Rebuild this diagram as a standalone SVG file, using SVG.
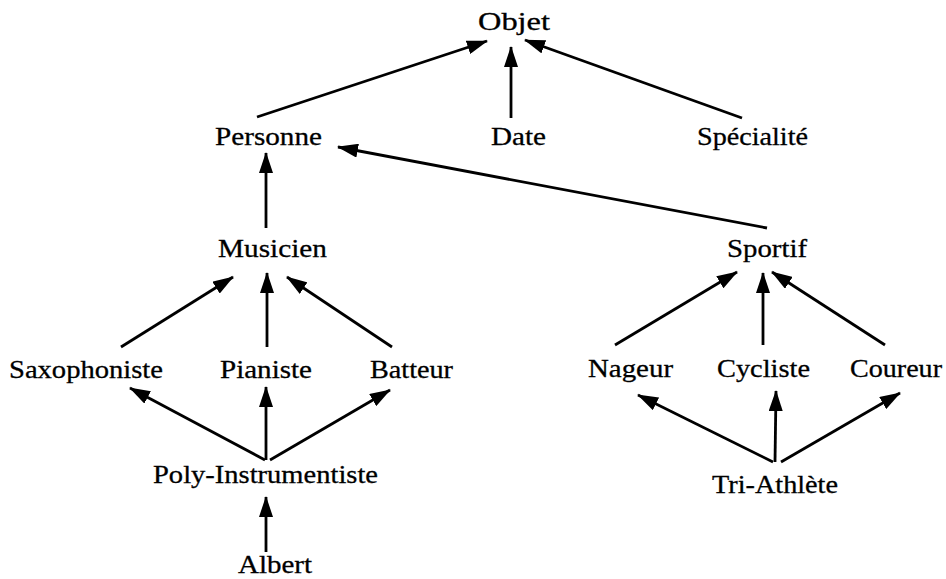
<svg xmlns="http://www.w3.org/2000/svg" width="946" height="579" viewBox="0 0 946 579">
<style>
text{font-family:"Liberation Serif","Times New Roman",serif;font-size:26px;fill:#000;stroke:#000;stroke-width:0.3}
.c line{stroke:#000;stroke-width:2.8;marker-end:url(#ah)}
</style>
<defs>
<marker id="ah" markerUnits="userSpaceOnUse" markerWidth="22" markerHeight="14" refX="20" refY="7" orient="auto">
<path d="M0,0 L21,7 L0,14 z" fill="#000"/>
</marker>
</defs>
<rect width="946" height="579" fill="#fff"/>
<g class="c" id="connectors">
<line x1="257" y1="117" x2="487" y2="41"/>
<line x1="511" y1="118" x2="511" y2="47"/>
<line x1="742" y1="118" x2="525" y2="40"/>
<line x1="767" y1="228" x2="338" y2="147"/>
<line x1="266" y1="228" x2="266" y2="153"/>
<line x1="121" y1="347" x2="233" y2="277"/>
<line x1="267" y1="347" x2="267" y2="273"/>
<line x1="392" y1="347" x2="287" y2="277"/>
<line x1="265" y1="460" x2="130" y2="388"/>
<line x1="266" y1="460" x2="266" y2="387"/>
<line x1="270" y1="460" x2="390" y2="390"/>
<line x1="266" y1="552" x2="266" y2="497"/>
<line x1="615" y1="345" x2="737" y2="272"/>
<line x1="763" y1="345" x2="763" y2="273"/>
<line x1="885" y1="345" x2="772" y2="272"/>
<line x1="773" y1="462" x2="638" y2="395"/>
<line x1="775" y1="462" x2="776" y2="391"/>
<line x1="781" y1="462" x2="900" y2="393"/>
</g>
<g id="objet"><text x="478" y="30" textLength="72" lengthAdjust="spacingAndGlyphs">Objet</text></g>
<g id="personne"><text x="215" y="145" textLength="107" lengthAdjust="spacingAndGlyphs">Personne</text></g>
<g id="date"><text x="491" y="145" textLength="55" lengthAdjust="spacingAndGlyphs">Date</text></g>
<g id="specialite"><text x="697" y="145" textLength="111" lengthAdjust="spacingAndGlyphs">Spécialité</text></g>
<g id="musicien"><text x="218" y="257" textLength="109" lengthAdjust="spacingAndGlyphs">Musicien</text></g>
<g id="sportif"><text x="727" y="257" textLength="80" lengthAdjust="spacingAndGlyphs">Sportif</text></g>
<g id="saxophoniste"><text x="9" y="378" textLength="154" lengthAdjust="spacingAndGlyphs">Saxophoniste</text></g>
<g id="pianiste"><text x="220" y="378" textLength="92" lengthAdjust="spacingAndGlyphs">Pianiste</text></g>
<g id="batteur"><text x="370" y="378" textLength="83" lengthAdjust="spacingAndGlyphs">Batteur</text></g>
<g id="nageur"><text x="588" y="377" textLength="85" lengthAdjust="spacingAndGlyphs">Nageur</text></g>
<g id="cycliste"><text x="717" y="377" textLength="93" lengthAdjust="spacingAndGlyphs">Cycliste</text></g>
<g id="coureur"><text x="850" y="377" textLength="92" lengthAdjust="spacingAndGlyphs">Coureur</text></g>
<g id="poly"><text x="153" y="483" textLength="225" lengthAdjust="spacingAndGlyphs">Poly-Instrumentiste</text></g>
<g id="triathlete"><text x="712" y="493" textLength="126" lengthAdjust="spacingAndGlyphs">Tri-Athlète</text></g>
<g id="albert"><text x="238" y="573" textLength="74" lengthAdjust="spacingAndGlyphs">Albert</text></g>
</svg>
